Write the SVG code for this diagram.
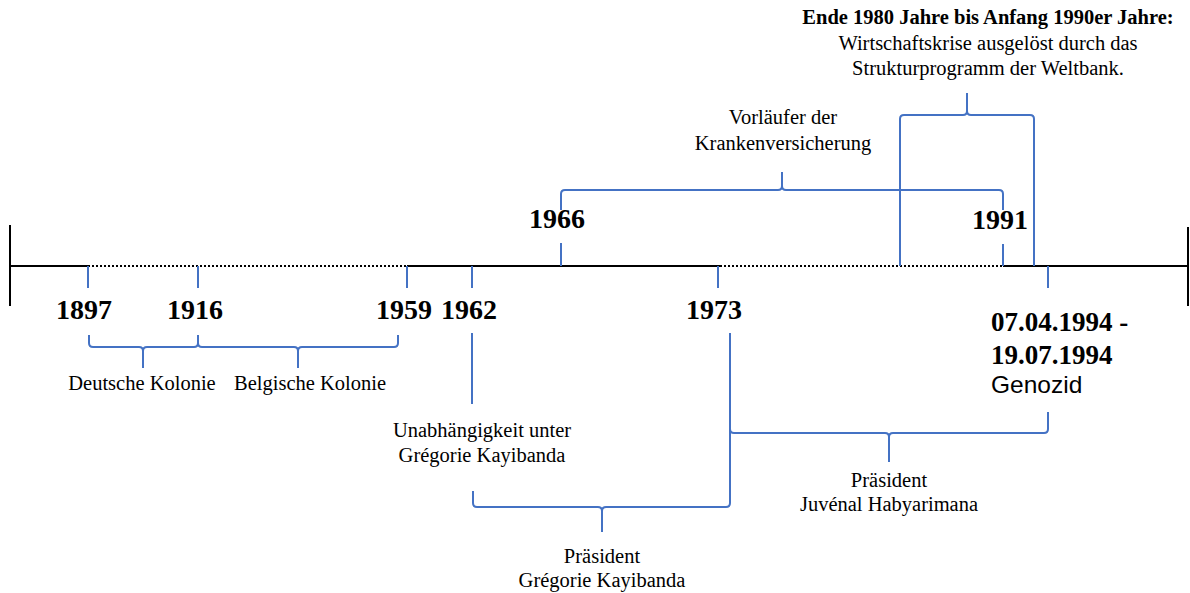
<svg xmlns="http://www.w3.org/2000/svg" width="1190" height="593" viewBox="0 0 1190 593">
<style>
.ax{stroke:#000;stroke-width:2;fill:none}
.dot{stroke:#000;stroke-width:2;stroke-dasharray:2 2;fill:none}
.bl{stroke:#4472C4;stroke-width:2;fill:none}
.yr{font-family:"Liberation Serif",serif;font-weight:bold;font-size:28px;fill:#000;text-anchor:middle}
.yr2{font-family:"Liberation Serif",serif;font-weight:bold;font-size:27px;fill:#000}
.tx{font-family:"Liberation Serif",serif;font-size:20.5px;fill:#000;text-anchor:middle}
</style>
<rect width="1190" height="593" fill="#fff"/>
<g id="connectors">
<line class="ax" x1="10" y1="225" x2="10" y2="306"/>
<line class="ax" x1="1188" y1="227" x2="1188" y2="306"/>
<line class="ax" x1="10" y1="266" x2="88" y2="266"/>
<line class="dot" x1="88" y1="266" x2="407" y2="266"/>
<line class="ax" x1="407" y1="266" x2="720" y2="266"/>
<line class="dot" x1="720" y1="266" x2="1003" y2="266"/>
<line class="ax" x1="1003" y1="266" x2="1188" y2="266"/>
<path class="bl" d="M88 266V288M198 266V288M407 266V288M472 266V288M718 266V288M1048 266V288M561 243V266M1003 244V266"/>
<path class="bl" d="M89 335V343Q89 347 93 347H139Q143 347 143 351V368M143 351Q143 347 147 347H194Q198 347 198 343V335"/>
<path class="bl" d="M198 343Q198 347 202 347H294Q298 347 298 351V368M298 351Q298 347 302 347H394Q398 347 398 343V335"/>
<path class="bl" d="M472 333V404"/>
<path class="bl" d="M473 491V503Q473 507 477 507H598Q602 507 602 511V532M602 511Q602 507 606 507H726Q730 507 730 503V333"/>
<path class="bl" d="M730 429Q730 433 734 433H885Q889 433 889 437V462M889 437Q889 433 893 433H1044Q1048 433 1048 429V412"/>
<path class="bl" d="M561 210V194Q561 190 565 190H778Q782 190 782 186V172M782 186Q782 190 786 190H999Q1003 190 1003 194V210"/>
<path class="bl" d="M900 266V119Q900 115 904 115H963Q967 115 967 111V93M967 111Q967 115 971 115H1030Q1034 115 1034 119V266"/>
</g>
<g id="years">
<text class="yr" x="84" y="319">1897</text>
<text class="yr" x="195" y="319">1916</text>
<text class="yr" x="404" y="319">1959</text>
<text class="yr" x="469" y="319">1962</text>
<text class="yr" x="714" y="319">1973</text>
<text class="yr" x="557" y="228">1966</text>
<text class="yr" x="1000" y="229">1991</text>
</g>
<g id="n-kolonie">
<text class="tx" x="142" y="390">Deutsche Kolonie</text>
<text class="tx" x="310" y="390">Belgische Kolonie</text>
</g>
<g id="n-unabh">
<text class="tx" x="482" y="437">Unabhängigkeit unter</text>
<text class="tx" x="482" y="462">Grégorie Kayibanda</text>
</g>
<g id="n-kayibanda">
<text class="tx" x="602" y="563">Präsident</text>
<text class="tx" x="602" y="587">Grégorie Kayibanda</text>
</g>
<g id="n-habyarimana">
<text class="tx" x="889" y="487">Präsident</text>
<text class="tx" x="889" y="511">Juvénal Habyarimana</text>
</g>
<g id="n-kranken">
<text class="tx" x="783" y="124">Vorläufer der</text>
<text class="tx" x="783" y="150">Krankenversicherung</text>
</g>
<g id="n-weltbank">
<text class="tx" x="988" y="24" font-weight="bold">Ende 1980 Jahre bis Anfang 1990er Jahre:</text>
<text class="tx" x="988" y="50">Wirtschaftskrise ausgelöst durch das</text>
<text class="tx" x="988" y="75">Strukturprogramm der Weltbank.</text>
</g>
<g id="n-genozid">
<text class="yr2" x="991" y="331">07.04.1994 -</text>
<text class="yr2" x="991" y="364">19.07.1994</text>
<text x="991" y="393" font-family="'Liberation Sans',sans-serif" font-size="24.5" fill="#000">Genozid</text>
</g>
</svg>
